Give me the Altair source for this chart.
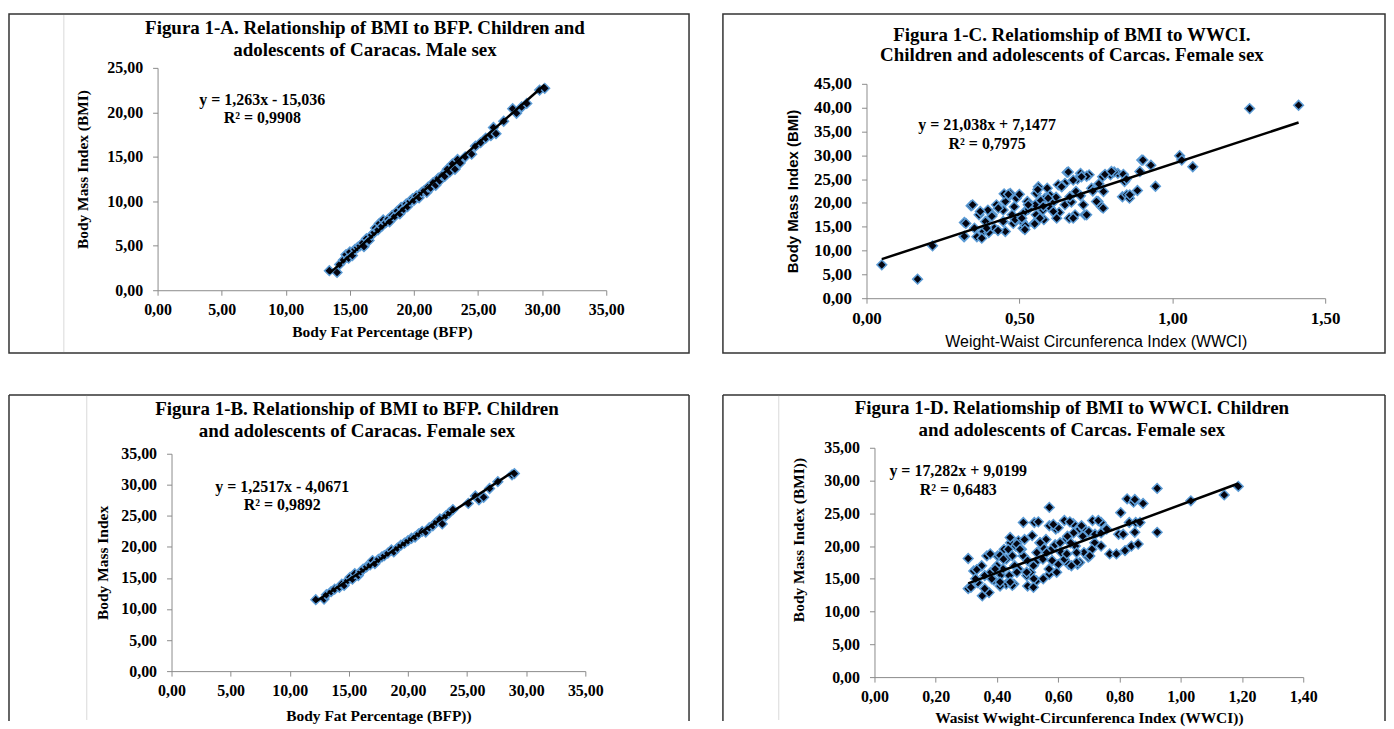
import altair as alt
import pandas as pd

# ---------------- data ----------------
# Panel A: BMI vs BFP, male
a_points = [(13.4, 2.2), (14.0, 2.0), (14.2, 2.9), (14.5, 3.4), (14.7, 4.0), (14.9, 3.6),
            (15.0, 4.3), (15.2, 3.9), (15.4, 4.6), (15.6, 4.8), (15.8, 5.0), (16.0, 5.3),
            (16.1, 4.9), (16.3, 5.8), (16.5, 5.6), (16.7, 6.2), (16.9, 6.5), (17.0, 7.0),
            (17.2, 6.8), (17.3, 7.5), (17.5, 7.2), (17.6, 7.9), (17.8, 7.6), (18.0, 8.0),
            (18.1, 7.7), (18.3, 8.4), (18.5, 8.3), (18.7, 8.9), (18.9, 8.6), (19.0, 9.3),
            (19.2, 9.1), (19.4, 9.7), (19.5, 9.4), (19.7, 10.0), (19.9, 10.3), (20.0, 10.1),
            (20.2, 10.6), (20.4, 10.4), (20.6, 11.0), (20.8, 11.2), (21.0, 11.0), (21.1, 11.6),
            (21.3, 11.5), (21.5, 12.1), (21.7, 11.8), (21.9, 12.6), (22.0, 12.3), (22.2, 12.9),
            (22.4, 12.8), (22.6, 13.6), (22.8, 13.3), (23.0, 14.2), (23.2, 13.6), (23.4, 14.7),
            (23.6, 14.3), (24.0, 15.0), (24.5, 15.3), (24.8, 16.2), (25.2, 16.6), (25.6, 17.1),
            (26.0, 17.4), (26.2, 18.3), (26.4, 17.6), (27.0, 19.0), (27.7, 20.4), (28.0, 19.9),
            (28.4, 20.6), (28.8, 21.0), (29.8, 22.5), (30.2, 22.7)]

# Panel B: BMI vs BFP, female
b_points = [(12.2, 11.5), (12.9, 11.6), (13.1, 12.3), (13.5, 12.8), (13.8, 13.2), (14.2, 13.5),
            (14.4, 14.0), (14.6, 13.8), (14.9, 14.6), (15.1, 15.1), (15.3, 14.8), (15.5, 15.7),
            (15.8, 15.4), (16.0, 16.0), (16.2, 16.4), (16.5, 16.8), (16.8, 17.1), (17.0, 17.8),
            (17.2, 17.3), (17.5, 18.0), (17.8, 18.4), (18.0, 18.6), (18.3, 19.0), (18.6, 19.5),
            (18.8, 19.2), (19.1, 19.8), (19.4, 20.3), (19.7, 20.6), (20.0, 21.0), (20.3, 21.4),
            (20.6, 21.6), (20.9, 22.1), (21.2, 22.5), (21.5, 22.4), (21.8, 23.1), (22.1, 23.4),
            (22.4, 24.0), (22.7, 24.5), (22.9, 23.7), (23.2, 25.0), (23.5, 25.5), (23.8, 26.0),
            (25.1, 27.0), (25.7, 28.2), (26.0, 27.6), (26.4, 28.0), (26.9, 29.4), (27.6, 30.5),
            (28.8, 31.6), (29.0, 31.8)]

# Panel C: BMI vs WWCI, female
c_points = [(0.05, 7.0), (0.167, 4.0), (0.216, 11.0), (0.319, 12.9), (0.32, 15.9), (0.342, 19.4),
            (1.253, 39.8), (1.413, 40.5), (0.945, 23.5), (1.024, 29.9), (1.031, 29.0), (1.067, 27.6),
            (0.90, 29.0), (0.894, 26.6), (0.886, 22.6), (0.93, 27.9), (0.844, 24.5), (0.837, 21.3),
            (0.851, 21.7), (0.798, 25.9), (0.822, 26.2), (0.772, 25.5), (0.775, 22.4), (0.757, 20.3),
            (0.768, 19.2), (0.728, 25.9), (0.736, 23.1), (0.714, 17.5), (0.70, 26.2), (0.685, 22.4),
            (0.682, 17.5), (0.656, 26.4), (0.649, 24.1), (0.649, 19.6), (0.663, 16.8), (0.627, 23.8),
            (0.613, 20.3), (0.62, 17.5), (0.591, 23.1), (0.584, 21.0), (0.577, 18.5), (0.562, 23.4),
            (0.555, 22.0), (0.552, 19.6), (0.555, 17.5), (0.548, 15.7), (0.526, 20.3), (0.519, 18.2),
            (0.509, 16.1), (0.512, 14.7), (0.49, 21.0), (0.483, 19.2), (0.476, 17.5), (0.48, 15.7),
            (0.469, 21.7), (0.454, 20.3), (0.447, 18.5), (0.447, 16.1), (0.454, 14.0), (0.425, 19.6),
            (0.411, 17.5), (0.418, 14.7), (0.397, 18.5), (0.389, 16.1), (0.382, 14.0), (0.368, 17.5),
            (0.361, 12.9), (0.353, 14.7), (0.325, 15.7), (0.56, 22.8), (0.60, 21.6), (0.64, 23.5),
            (0.66, 26.5), (0.69, 25.0), (0.72, 25.6), (0.60, 19.0), (0.63, 18.0), (0.58, 16.5),
            (0.52, 15.2), (0.55, 15.6), (0.43, 14.2), (0.40, 13.8), (0.50, 17.0), (0.53, 18.7),
            (0.57, 20.5), (0.62, 21.2), (0.67, 20.2), (0.70, 21.5), (0.74, 22.5), (0.76, 24.0),
            (0.78, 26.0), (0.81, 26.5), (0.84, 26.0), (0.85, 25.0), (0.86, 21.0), (0.45, 21.9),
            (0.47, 22.0), (0.50, 21.8),
            (0.32, 13.0), (0.347, 19.6), (0.372, 18.2), (0.377, 12.6), (0.393, 14.7), (0.41, 17.2),
            (0.431, 18.9), (0.464, 21.8), (0.486, 16.5), (0.508, 16.8), (0.518, 14.4), (0.529, 19.6),
            (0.567, 16.8), (0.578, 19.3), (0.594, 21.0), (0.611, 18.2), (0.622, 16.8), (0.638, 23.4),
            (0.665, 21.3), (0.676, 24.8), (0.676, 16.8), (0.703, 25.5), (0.709, 19.6), (0.72, 17.5),
            (0.752, 20.3), (0.774, 18.9), (0.801, 26.6), (0.861, 21.7), (0.904, 29.0)]

# Panel D: BMI vs WWCI, female
d_points = [(0.306, 18.1), (0.306, 13.5), (0.324, 16.2), (0.352, 12.4), (0.338, 14.4), (0.367, 18.5),
            (0.374, 12.9), (0.36, 15.5), (0.402, 18.5), (0.413, 15.6), (0.423, 19.5), (0.43, 14.2),
            (0.444, 20.5), (0.455, 14.2), (0.461, 20.0), (0.458, 17.0), (0.486, 18.5), (0.486, 23.6),
            (0.497, 15.5), (0.50, 13.9), (0.515, 21.6), (0.522, 23.6), (0.526, 17.5), (0.529, 14.7),
            (0.55, 19.8), (0.571, 25.9), (0.571, 23.1), (0.571, 15.7), (0.578, 19.5), (0.592, 22.6),
            (0.60, 17.2), (0.62, 23.9), (0.627, 21.1), (0.634, 17.2), (0.649, 23.4), (0.656, 20.0),
            (0.663, 17.2), (0.67, 22.6), (0.684, 19.0), (0.684, 22.6), (0.698, 18.3), (0.712, 23.9),
            (0.719, 20.5), (0.74, 23.6), (0.74, 20.0), (0.768, 18.8), (0.797, 21.8), (0.804, 25.1),
            (0.818, 19.3), (0.825, 27.2), (0.832, 23.6), (0.839, 20.0), (0.846, 26.7), (0.853, 23.6),
            (0.867, 23.6), (0.923, 28.8), (0.923, 22.1), (1.033, 26.9), (1.142, 27.8), (1.188, 29.1),
            (0.38, 16.0), (0.40, 17.0), (0.42, 16.5), (0.44, 15.5), (0.45, 18.5), (0.47, 16.5),
            (0.48, 19.5), (0.50, 17.8), (0.51, 16.0), (0.53, 19.0), (0.54, 20.5), (0.55, 18.0),
            (0.56, 21.0), (0.58, 17.8), (0.59, 20.2), (0.61, 19.0), (0.62, 18.0), (0.64, 20.5),
            (0.65, 22.0), (0.66, 19.0), (0.68, 21.5), (0.70, 22.2), (0.72, 21.8), (0.74, 22.0),
            (0.45, 14.0), (0.39, 14.8), (0.35, 17.0), (0.33, 15.0), (0.43, 18.0), (0.47, 20.8),
            (0.52, 15.0), (0.57, 16.5), (0.60, 22.8), (0.63, 21.5), (0.67, 17.5), (0.71, 19.5),
            (0.36, 13.5), (0.41, 13.9), (0.49, 21.0),
            (0.334, 16.4), (0.315, 13.7), (0.378, 18.8), (0.394, 16.5), (0.41, 18.6), (0.437, 19.5),
            (0.465, 20.3), (0.535, 23.7), (0.584, 23.3), (0.638, 23.7), (0.676, 23.1), (0.731, 23.9),
            (0.758, 22.6), (0.79, 18.8), (0.85, 27.1), (0.877, 26.5), (0.861, 20.3), (0.85, 22.1),
            (0.812, 21.8), (0.541, 20.5), (0.562, 19.0), (0.606, 20.5), (0.628, 18.8), (0.66, 17.5),
            (0.703, 18.5), (0.519, 17.0), (0.497, 16.0), (0.465, 16.0), (0.443, 14.5), (0.41, 14.5),
            (0.475, 19.5), (0.551, 15.0), (0.595, 16.0), (0.643, 17.0), (0.519, 13.7), (0.443, 21.3),
            (0.421, 18.0), (0.383, 15.0)]

# Trendline coefficients as printed on the chart
slopes = [1.263, 1.2517, 21.038, 17.282]
intercepts = [-15.036, -4.0671, 7.1477, 9.0199]
equations = ["y = 1,263x - 15,036", "y = 1,2517x - 4,0671", "y = 21,038x + 7,1477", "y = 17,282x + 9,0199"]
r2_labels = ["R² = 0,9908", "R² = 0,9892", "R² = 0,7975", "R² = 0,6483"]

titles = [
    ["Figura 1-A. Relationship of BMI to BFP. Children and", "adolescents of Caracas.  Male sex"],
    ["Figura 1-B. Relationship of BMI to BFP. Children", "and adolescents of Caracas.  Female sex"],
    ["Figura 1-C. Relatiomship of BMI to WWCI.", "Children and adolescents of Carcas. Female sex"],
    ["Figura 1-D. Relatiomship of BMI to WWCI.  Children", "and adolescents of Carcas. Female sex"],
]
x_titles = ["Body Fat Percentage (BFP)", "Body Fat Percentage (BFP))",
            "Weight-Waist Circunferenca Index (WWCI)", "Wasist Wwight-Circunferenca  Index (WWCI))"]
y_titles = ["Body Mass Index  (BMI)", "Body Mass Index", "Body Mass Index (BMI)", "Body Mass Index (BMI))"]

x_ticks = [[0, 5, 10, 15, 20, 25, 30, 35], [0, 5, 10, 15, 20, 25, 30, 35],
           [0, 0.5, 1.0, 1.5], [0, 0.2, 0.4, 0.6, 0.8, 1.0, 1.2, 1.4]]
y_ticks = [[0, 5, 10, 15, 20, 25], [0, 5, 10, 15, 20, 25, 30, 35],
           [0, 5, 10, 15, 20, 25, 30, 35, 40, 45], [0, 5, 10, 15, 20, 25, 30, 35]]

SERIF = "Liberation Serif"
SANS = "Liberation Sans"
LABEL_EXPR = "replace(format(datum.value, '.2f'), '.', ',')"
AXIS_GREY = "#8c8c8c"
BOX = "#333333"


def text_layer(s, x, y, size, font=SERIF, weight="bold"):
    return alt.Chart(pd.DataFrame({"t": [s]})).mark_text(
        font=font, fontWeight=weight, fontSize=size, align="center", baseline="middle", color="black"
    ).encode(text="t:N", x=alt.value(x), y=alt.value(y))


def panel(i, pts, w, h, title_xy, ytpad, xtpad, ann_x, ann_y, box,
          xrange=None, yrange=None, yoffset=0, ytitle_y=None, faint_x=None, open_bottom=False,
          sans_titles=False, label_size=16, xlabel_pad=6):
    df = pd.DataFrame(pts, columns=["x", "y"])
    xt, yt = x_ticks[i], y_ticks[i]
    xs_kw = dict(domain=[xt[0], xt[-1]], nice=False, zero=False)
    ys_kw = dict(domain=[yt[0], yt[-1]], nice=False, zero=False)
    if xrange is not None:
        xs_kw["range"] = xrange
    if yrange is not None:
        ys_kw["range"] = yrange
    xscale = alt.Scale(**xs_kw)
    yscale = alt.Scale(**ys_kw)

    common = dict(labelExpr=LABEL_EXPR, labelFont=SERIF, labelFontWeight="bold", labelFontSize=label_size,
                  labelColor="black", labelFlush=False, labelOverlap=False, grid=False,
                  domainColor=AXIS_GREY, tickColor=AXIS_GREY, tickSize=5, titleColor="black")
    if sans_titles:
        xt_font = dict(titleFont=SANS, titleFontWeight="normal", titleFontSize=16)
        yt_font = dict(titleFont=SANS, titleFontWeight="bold", titleFontSize=15)
    else:
        xt_font = dict(titleFont=SERIF, titleFontWeight="bold", titleFontSize=15.5)
        yt_font = dict(titleFont=SERIF, titleFontWeight="bold", titleFontSize=15.5)
    if ytitle_y is not None:
        yt_font["titleY"] = ytitle_y

    xaxis = alt.Axis(values=xt, title=x_titles[i], labelPadding=xlabel_pad, titlePadding=xtpad,
                     **common, **xt_font)
    yaxis = alt.Axis(values=yt, title=y_titles[i], labelPadding=10, titlePadding=ytpad,
                     offset=yoffset, **common, **yt_font)

    points = alt.Chart(df).mark_point(
        shape="diamond", filled=True, fill="#050510", stroke="#5b9bd5",
        strokeWidth=1.5, size=95, opacity=1
    ).encode(x=alt.X("x:Q", scale=xscale, axis=xaxis),
             y=alt.Y("y:Q", scale=yscale, axis=yaxis))

    xs = [p[0] for p in pts]
    line = alt.Chart(pd.DataFrame({"x": [min(xs), max(xs)]})).transform_calculate(
        y=f"{slopes[i]} * datum.x + ({intercepts[i]})"
    ).mark_line(color="black", strokeWidth=2.5).encode(
        x=alt.X("x:Q", scale=xscale, axis=xaxis),
        y=alt.Y("y:Q", scale=yscale, axis=yaxis))

    x0, x1, y0, y1 = box
    one = pd.DataFrame({"k": [0]})
    frame_layers = []
    if open_bottom:
        frame_layers.append(alt.Chart(one).mark_rule(color=BOX, strokeWidth=1.5).encode(
            x=alt.value(x0), y=alt.value(y0), y2=alt.value(y1)))
        frame_layers.append(alt.Chart(one).mark_rule(color=BOX, strokeWidth=1.5).encode(
            x=alt.value(x1), y=alt.value(y0), y2=alt.value(y1)))
        frame_layers.append(alt.Chart(one).mark_rule(color=BOX, strokeWidth=1.5).encode(
            x=alt.value(x0), x2=alt.value(x1), y=alt.value(y0)))
    else:
        frame_layers.append(alt.Chart(one).mark_rect(filled=False, stroke=BOX, strokeWidth=1.5).encode(
            x=alt.value(x0), x2=alt.value(x1), y=alt.value(y0), y2=alt.value(y1)))
    if faint_x is not None:
        frame_layers.append(alt.Chart(one).mark_rule(color="#d9d9d9", strokeWidth=1).encode(
            x=alt.value(faint_x), y=alt.value(y0 + 1), y2=alt.value(y1 - 1)))

    tx, ty1, ty2 = title_xy
    texts = [
        text_layer(titles[i][0], tx, ty1, 19),
        text_layer(titles[i][1], tx, ty2, 19),
        text_layer(equations[i], ann_x, ann_y[0], 16),
        text_layer(r2_labels[i], ann_x, ann_y[1], 16),
    ]

    return alt.layer(*frame_layers, points, line, *texts).properties(width=w, height=h)


pa = panel(0, a_points, 450, 223, (208, -40, -18), 16, 7, 105, (32, 50),
           (-149, 533, -54, 286), ytitle_y=101.5, faint_x=-94)
pc = panel(2, c_points, 460, 231, (206, -33, -13), 12.5, 7.5, 121, (57, 76),
           (-144, 520, -54, 286), yrange=[231, 16], sans_titles=True, label_size=17, xlabel_pad=7)
pb = panel(1, b_points, 429, 224, (200, -39, -17), 10, 11, 125, (39, 57),
           (-149, 533, -53, 274), xrange=[14, 429], yrange=[224, 6], yoffset=-14,
           faint_x=-71, open_bottom=True)
pd_ = panel(3, d_points, 430, 230, (198, -40, -18), 17, 7, 84, (23, 42),
            (-152, 512, -53, 274), ytitle_y=92, faint_x=-96, open_bottom=True)

chart = alt.vconcat(
    alt.hconcat(pa, pc, spacing=32),
    alt.hconcat(pb, pd_, spacing=32),
    spacing=40,
).properties(
    padding={"left": 0, "top": 4, "right": 0, "bottom": 0},
    background="white",
).configure_view(stroke=None)

chart.save("out.html", embed_options={"renderer": "svg", "actions": False})
